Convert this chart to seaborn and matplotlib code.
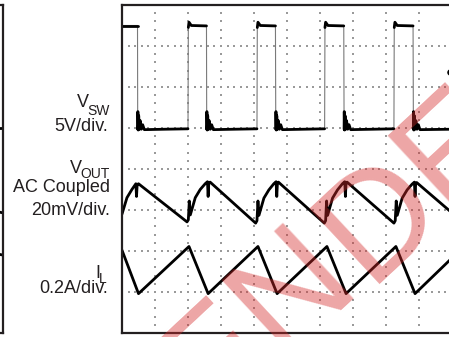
import numpy as np
import pandas as pd
import matplotlib
matplotlib.use("Agg")
import matplotlib.pyplot as plt
import seaborn as sns

# Scope capture, values in divisions (10 x 8 screen)
vsw_t = [0.00, 0.47, 0.476, 0.481, 0.491, 0.506, 0.526, 0.551, 0.586, 0.626, 0.676, 1.30, 2.00,
         2.01, 2.03, 2.10, 2.56, 2.567, 2.572, 2.582, 2.597, 2.617, 2.642, 2.677, 2.717, 2.767, 3.40, 4.09,
         4.10, 4.12, 4.19, 4.65, 4.66, 4.665, 4.675, 4.69, 4.71, 4.735, 4.77, 4.81, 4.86, 5.50, 6.14,
         6.15, 6.17, 6.24, 6.72, 6.73, 6.735, 6.745, 6.76, 6.78, 6.805, 6.84, 6.88, 6.93, 7.60, 8.24,
         8.25, 8.27, 8.34, 8.82, 8.83, 8.835, 8.845, 8.86, 8.88, 8.905, 8.94, 8.98, 9.03, 10.0]
vsw_v = [7.50, 7.50, 4.97, 5.40, 4.95, 5.30, 4.97, 5.18, 4.97, 5.08, 4.96, 4.97, 4.98,
         7.45, 7.58, 7.50, 7.49, 4.97, 5.40, 4.95, 5.30, 4.97, 5.18, 4.97, 5.08, 4.96, 4.97, 4.98,
         7.45, 7.58, 7.50, 7.49, 4.97, 5.40, 4.95, 5.30, 4.97, 5.18, 4.97, 5.08, 4.96, 4.97, 4.98,
         7.45, 7.58, 7.50, 7.49, 4.97, 5.40, 4.95, 5.30, 4.97, 5.18, 4.97, 5.08, 4.96, 4.97, 4.98,
         7.45, 7.58, 7.50, 7.49, 4.97, 5.40, 4.95, 5.30, 4.97, 5.18, 4.97, 5.08, 4.96, 4.97]

vout_t = [0.00, 0.15, 0.30, 0.42, 0.44, 0.46, 0.50,
          1.97, 2.01, 2.04, 2.07, 2.22, 2.37, 2.52, 2.59, 2.61, 2.63, 2.67,
          4.05, 4.09, 4.12, 4.15, 4.30, 4.45, 4.60, 4.67, 4.69, 4.71, 4.74,
          6.13, 6.17, 6.20, 6.23, 6.38, 6.53, 6.68, 6.75, 6.77, 6.79, 6.82,
          8.24, 8.28, 8.31, 8.34, 8.49, 8.64, 8.79, 8.86, 8.88, 8.90, 8.93,
          10.0]
vout_v = [2.90, 3.30, 3.50, 3.64, 3.33, 3.62, 3.64,
          2.71, 2.76, 3.22, 2.88, 3.30, 3.50, 3.64, 3.69, 3.33, 3.66, 3.68,
          2.68, 2.74, 3.22, 2.87, 3.29, 3.49, 3.64, 3.69, 3.33, 3.66, 3.68,
          2.68, 2.74, 3.22, 2.87, 3.29, 3.49, 3.64, 3.69, 3.33, 3.66, 3.68,
          2.68, 2.74, 3.22, 2.87, 3.29, 3.49, 3.63, 3.68, 3.33, 3.65, 3.67,
          2.93]

il_t = [0.00, 0.50, 2.03, 2.61, 4.12, 4.70, 6.21, 6.79, 8.30, 8.88, 10.0]
il_v = [2.02, 0.96, 2.11, 0.96, 2.11, 0.96, 2.11, 0.96, 2.11, 0.96, 1.83]

# scope channel marker at the right edge
mark_t = [9.93]
mark_v = [6.37]

# traces of the neighbouring capture that reach its right edge
left_t = [9.88, 10.0, 9.88, 10.0, 9.88, 10.0]
left_v = [5.00, 5.00, 2.95, 2.93, 1.92, 1.90]
left_seg = [0, 0, 1, 1, 2, 2]

INK = "#231f20"
W, H = 449, 337

sns.set_style("white")
plt.rcParams["font.family"] = ["Liberation Sans", "DejaVu Sans"]

fig = plt.figure(figsize=(W / 100, H / 100), dpi=100)


def px_axes(x0, y0, x1, y1):
    # axes placed by pixel box (top-left origin)
    return fig.add_axes([x0 / W, 1 - y1 / H, (x1 - x0) / W, (y1 - y0) / H])


def scope_frame(ax):
    ax.set_xlim(0, 10)
    ax.set_ylim(0, 8)
    ax.set_xticks([])
    ax.set_yticks([])
    ax.set_xlabel("")
    ax.set_ylabel("")
    for s in ax.spines.values():
        s.set_visible(True)
        s.set_color(INK)
        s.set_linewidth(1.6)


# neighbouring panel, only its right edge shows
axl = px_axes(3 - 330, 5, 3, 333)
sns.lineplot(x=left_t, y=left_v, units=left_seg, estimator=None, sort=False,
             color="black", linewidth=2.0, ax=axl, legend=False)
scope_frame(axl)

ax = px_axes(122, 5, 452, 333)

# dotted graticule, 5 dots per division
sub = np.arange(0, 10.01, 0.2)
subv = np.arange(0, 8.01, 0.2)
gx, gy = [], []
for yy in range(1, 8):
    gx += list(sub)
    gy += [yy] * len(sub)
for xx in range(1, 10):
    gx += [xx] * len(subv)
    gy += list(subv)
ax.scatter(gx, gy, s=1.0, marker="s", color="#9a9a9a", linewidths=0, zorder=1)

# switch node: thin edges, heavy levels
sns.lineplot(x=vsw_t, y=vsw_v, estimator=None, sort=False,
             color="#7a7a7a", linewidth=0.8, ax=ax)
df_sw = pd.DataFrame({"t": vsw_t, "v": vsw_v})
df_sw["seg"] = (df_sw["v"].diff().abs() > 1.5).cumsum()
sns.lineplot(data=df_sw, x="t", y="v", units="seg", estimator=None, sort=False,
             color="black", linewidth=2.0, ax=ax, legend=False)

sns.lineplot(x=vout_t, y=vout_v, estimator=None, sort=False,
             color="black", linewidth=2.0, ax=ax)
sns.lineplot(x=il_t, y=il_v, estimator=None, sort=False,
             color="black", linewidth=2.0, ax=ax)
sns.scatterplot(x=mark_t, y=mark_v, color="black", s=22, linewidth=0, ax=ax)
scope_frame(ax)


def label(txt, x, y, size=13):
    fig.text(x / W, 1 - y / H, txt, ha="right", va="baseline",
             fontsize=size, color=INK)


label("V", 88.5, 107)
label("SW", 110, 115, 10)
label("5V/div.", 108.5, 130.7)
label("V", 82, 173)
label("OUT", 110, 178.5, 10)
label("AC Coupled", 110, 191.7)
label("20mV/div.", 110, 215)
label("I", 100, 278)
label("L", 107, 283.3, 10)
label("0.2A/div.", 108, 293)

# watermark, split at the first D so each half can be pinned
wm = dict(va="baseline", rotation=43, rotation_mode="anchor",
          fontsize=108, color="#d42a2a", alpha=0.42, zorder=10)
fig.text(367.6 / W, 1 - 284.5 / H, "DED", ha="left", **wm)
fig.text(362.9 / W, 1 - 289.7 / H, "NOT RECOMMEN", ha="right", **wm)

fig.savefig("out.png", dpi=100)
